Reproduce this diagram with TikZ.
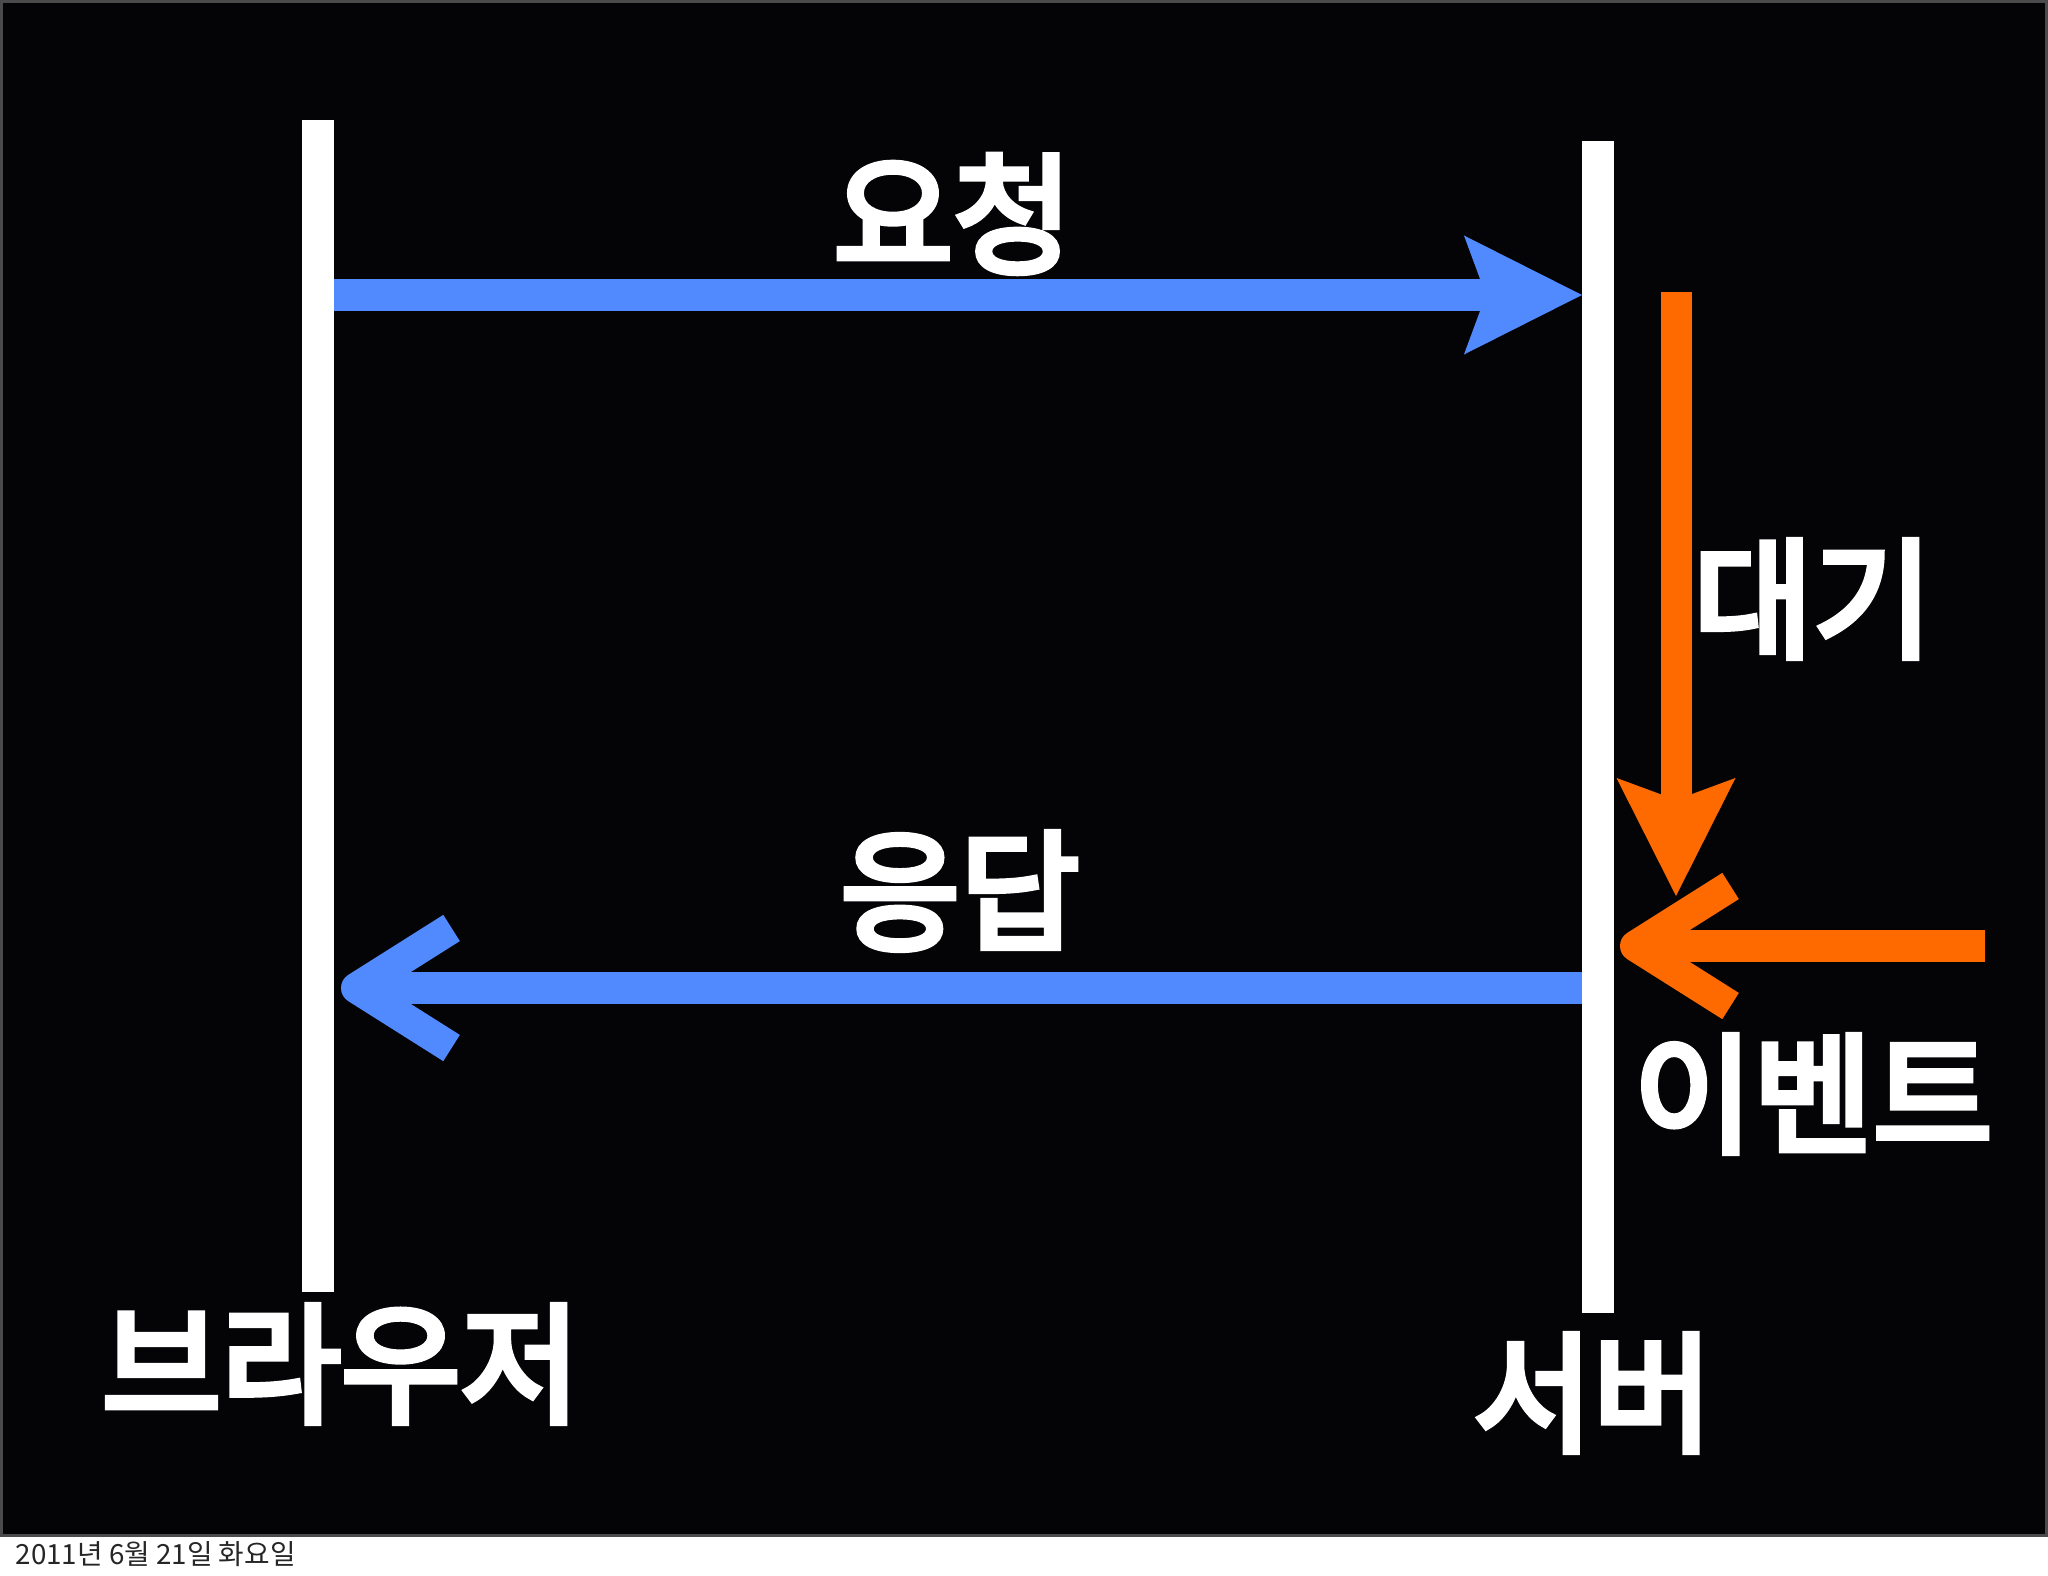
\documentclass[tikz,border=0pt]{standalone}
\usepackage{fontspec}
\newfontfamily\kr{Noto Sans CJK KR}
\newfontfamily\krmid{Noto Sans CJK KR}[FakeBold=5]
\usetikzlibrary{arrows.meta}
\definecolor{msgblue}{RGB}{81,138,255}
\definecolor{evorange}{RGB}{255,106,0}
\definecolor{slidebg}{RGB}{4,3,6}
\definecolor{slideedge}{RGB}{75,75,75}
\begin{document}
\begin{tikzpicture}[x=0.01cm, y=-0.01cm,
    wordbox/.style={font=\krmid\fontsize{37}{44}\selectfont, text=white, inner sep=0pt},
    lifeline/.style={white, line width=0.32cm},
    flow/.style={line width=0.31cm},
    filltip/.style={-{Stealth[length=1.18cm, width=1.19cm, inset=0.22cm, line width=0pt]}},
    barbtip/.style={-{Straight Barb[length=0.95cm, width=1.2cm, line join=round]}}]
    \useasboundingbox (0,0) rectangle (2048,1576);
    \draw[fill=slidebg, draw=slideedge, line width=0.03cm] (1.5,1.5) rectangle (2046.5,1535.5);
    \coordinate (bt) at (318,120);
    \coordinate (bb) at (318,1292);
    \coordinate (st) at (1598,141);
    \coordinate (sb) at (1598,1313);
    \coordinate (reqa) at (334,295);
    \coordinate (reqb) at (1582,295);
    \coordinate (waita) at (1676,292);
    \coordinate (waitb) at (1676,896);
    \coordinate (eva) at (1985,946);
    \coordinate (evb) at (1620,946);
    \coordinate (respa) at (1582,988);
    \coordinate (respb) at (341,988);
    \node[wordbox] at (953,214) (req) {요청};
    \node[wordbox] at (1813,599) (wait) {대기};
    \node[wordbox] at (960,891) (resp) {응답};
    \node[wordbox] at (1813,1094) (ev) {이벤트};
    \node[wordbox] at (341,1364) (browser) {브라우저};
    \node[wordbox] at (1593,1393) (server) {서버};
    \node[anchor=west, inner sep=0pt, text=black!85, font=\kr\fontsize{7.9}{9}\selectfont] at (15,1554) (date) {2011년 6월 21일 화요일};
    \draw[lifeline] (bt) -- (bb);
    \draw[lifeline] (st) -- (sb);
    \draw[flow, msgblue, filltip] (reqa) -- (reqb);
    \draw[flow, evorange, filltip] (waita) -- (waitb);
    \draw[flow, evorange, barbtip] (eva) -- (evb);
    \draw[flow, msgblue, barbtip] (respa) -- (respb);
\end{tikzpicture}
\end{document}
